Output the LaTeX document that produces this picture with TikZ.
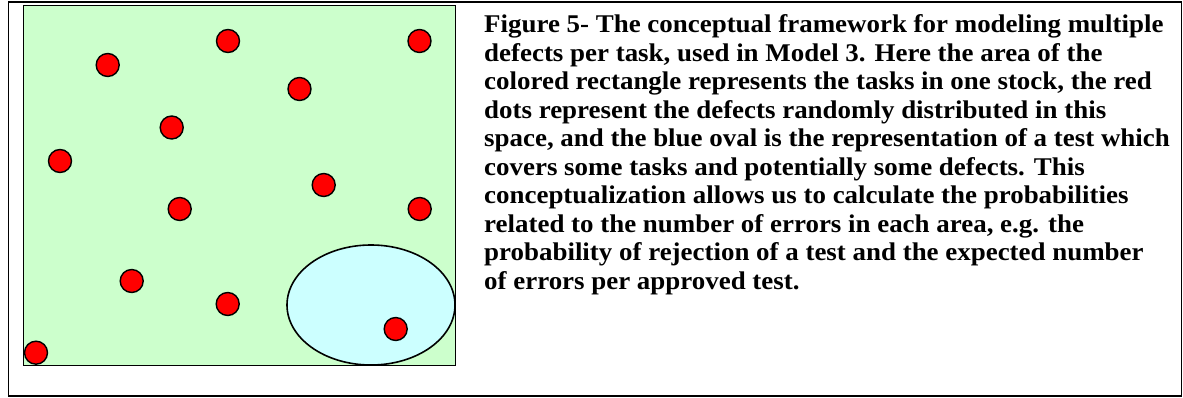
\documentclass[tikz,border=0pt]{standalone}
\usepackage{fontspec}
\setmainfont{Liberation Serif}
\usetikzlibrary{shapes.geometric}
\definecolor{stockgreen}{HTML}{CCFFCC}
\definecolor{testblue}{HTML}{CCFFFF}
\begin{document}
\begin{tikzpicture}[x=1pt,y=-1pt,
  defect/.style={circle,draw=black,fill=red,line width=1.4pt,minimum size=23pt,inner sep=0pt},
  frame/.style={draw=black,line width=1.8pt},
  caption/.style={anchor=north west,align=left,inner sep=0pt}]
\useasboundingbox (0,0) rectangle (1183,398);
\node[frame,rectangle,minimum width=1173pt,minimum height=394pt,inner sep=0pt] (outer) at (595,199.3) {};
\node[rectangle,draw=black,fill=stockgreen,line width=1.6pt,minimum width=432pt,minimum height=360pt,inner sep=0pt] (stock) at (239.4,185.4) {};
\node[ellipse,draw=black,fill=testblue,line width=1.6pt,minimum width=168pt,minimum height=120pt,inner sep=0pt] (test) at (371,305) {};
\node[defect] (d1) at (228,41) {};
\node[defect] (d2) at (419.5,41) {};
\node[defect] (d3) at (107.7,65) {};
\node[defect] (d4) at (299.5,89) {};
\node[defect] (d5) at (171.7,127.5) {};
\node[defect] (d6) at (60,161) {};
\node[defect] (d7) at (323.7,185) {};
\node[defect] (d8) at (179.7,209) {};
\node[defect] (d9) at (419.7,209) {};
\node[defect] (d10) at (131.7,281) {};
\node[defect] (d11) at (227.7,304) {};
\node[defect] (d12) at (395.7,329) {};
\node[defect] (d13) at (36,352.7) {};
\node[caption] (cap) at (484,14.5) {\scalebox{1.056}[1]{\parbox[t]{660pt}{\raggedright\bfseries\fontsize{25.5}{28.5}\selectfont
Figure 5- The conceptual framework for modeling multiple\\
defects per task, used in Model 3. Here the area of the\\
colored rectangle represents the tasks in one stock, the red\\
dots represent the defects randomly distributed in this\\
space, and the blue oval is the representation of a test which\\
covers some tasks and potentially some defects. This\\
conceptualization allows us to calculate the probabilities\\
related to the number of errors in each area, e.g. the\\
probability of rejection of a test and the expected number\\
of errors per approved test.}}};
\end{tikzpicture}
\end{document}
